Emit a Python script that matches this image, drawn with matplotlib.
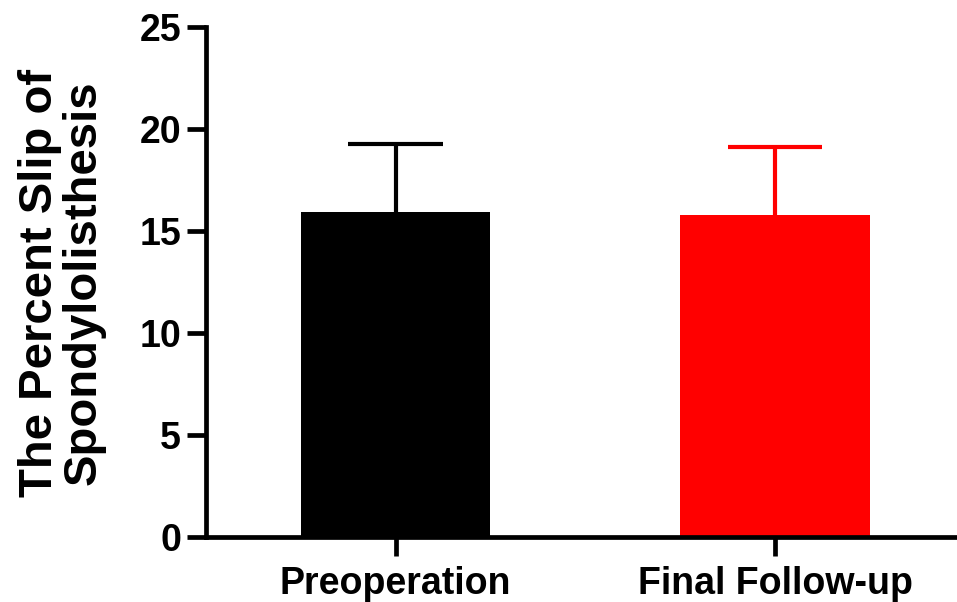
import matplotlib.pyplot as plt

plt.rcParams['font.family'] = ['Liberation Sans', 'DejaVu Sans']
plt.rcParams['font.weight'] = 'bold'

groups = ['Preoperation', 'Final Follow-up']
means = [15.95, 15.8]
sds = [3.3, 3.33]
colors = ['#000000', '#ff0000']
yticks = [0, 5, 10, 15, 20, 25]

fig = plt.figure(figsize=(9.57, 6.02), dpi=100)
ax = fig.add_axes([206 / 957, 65 / 602, 751 / 957, 510 / 602])

x = list(range(len(groups)))
bar_w = 0.5
ax.bar(x, means, width=bar_w, color=colors, zorder=2)
# upper-only error bars, no cap at the bar top
for xi, m, s, c in zip(x, means, sds, colors):
    ax.vlines(xi, m, m + s, color=c, lw=3, zorder=1)
    ax.hlines(m + s, xi - bar_w / 4, xi + bar_w / 4, color=c, lw=3, zorder=1)

ax.set_xlim(-0.5, 1.48)
ax.set_ylim(0, 25)
ax.set_yticks(yticks)
ax.set_xticks(x)
ax.set_xticklabels(groups)

for side in ['top', 'right']:
    ax.spines[side].set_visible(False)
for side in ['left', 'bottom']:
    ax.spines[side].set_linewidth(3.4)

ax.tick_params(axis='both', width=3.4, length=14, direction='out')
ax.tick_params(axis='y', pad=4, labelsize=27)
ax.tick_params(axis='x', pad=7, labelsize=27)
for lab in ax.get_xticklabels() + ax.get_yticklabels():
    lab.set_fontweight('bold')

fig.text(62 / 957, 1 - 283 / 602, 'The Percent Slip of\nSpondylolisthesis',
         rotation=90, ha='center', va='center', fontsize=34,
         fontweight='bold', multialignment='center', linespacing=1.0)

fig.savefig('out.png', dpi=100)
